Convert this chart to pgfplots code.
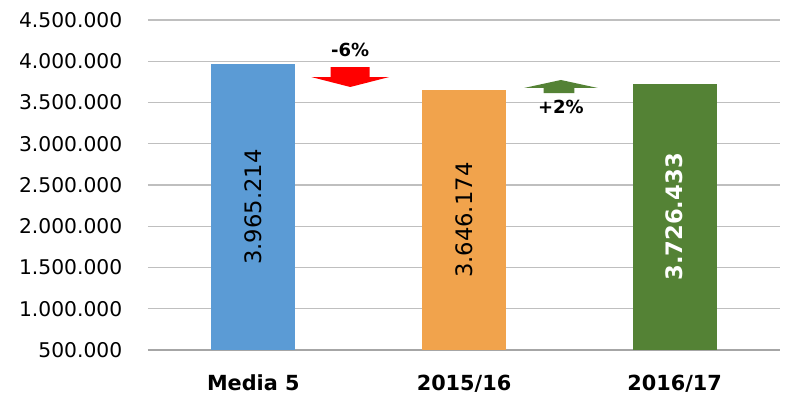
\documentclass[border=0pt]{standalone}
\usepackage{pgfplots}
\pgfplotsset{compat=1.18}
\usepackage{fontspec}
\setmainfont{DejaVu Sans}
\definecolor{cblue}{HTML}{5B9BD5}
\definecolor{corange}{HTML}{F1A34C}
\definecolor{cgreen}{HTML}{548235}
\definecolor{gridc}{HTML}{BFBFBF}
\definecolor{axc}{HTML}{A6A6A6}
\begin{document}
\begin{tikzpicture}
\begin{axis}[
  name=ax,
  scale only axis,
  width=474pt, height=247.5pt,
  xmin=-0.5, xmax=2.5,
  ymin=500000, ymax=4500000,
  ytick={500000,1000000,...,4500000},
  scaled y ticks=false,
  xtick={0,1,2},
  xticklabels={Media 5,2015/16,2016/17},
  axis x line=bottom, axis y line=left,
  y axis line style={draw=none},
  x axis line style={-, draw=axc, line width=0.8pt},
  ytick style={draw=none},
  xtick style={draw=none},
  extra x ticks={-0.5,0.5,1.5,2.5},
  extra x tick labels={},
  extra x tick style={tick style={draw=axc, line width=0.8pt}, major tick length=6pt, tick align=outside, grid=none},
  ymajorgrids,
  grid style={draw=gridc, line width=0.8pt},
  /pgf/number format/.cd, 1000 sep={.}, fixed, precision=0, assume math mode=true,
  /pgfplots/.cd,
  yticklabel style={font=\fontsize{15.2}{18}\selectfont, inner sep=0pt, xshift=-17pt},
  xticklabel style={font=\bfseries\fontsize{15.6}{18}\selectfont, inner sep=0pt, yshift=-14pt},
  ybar, bar width=0.4,
  bar shift=0pt,
  clip=false,
]
\addplot[fill=cblue, draw=none] coordinates {(0,3965214)};
\addplot[fill=corange, draw=none] coordinates {(1,3646174)};
\addplot[fill=cgreen, draw=none] coordinates {(2,3726433)};

\node[rotate=90, font=\fontsize{17}{20}\selectfont] at (axis cs:0,2232607) {3.965.214};
\node[rotate=90, font=\fontsize{17}{20}\selectfont] at (axis cs:1,2073087) {3.646.174};
\node[rotate=90, text=white, font=\bfseries\fontsize{17}{20}\selectfont] at (axis cs:2,2113216) {3.726.433};

% red down arrow
\fill[red] (axis cs:0.367,3930000) -- (axis cs:0.552,3930000) -- (axis cs:0.552,3809000)
  -- (axis cs:0.645,3809000) -- (axis cs:0.46,3688000) -- (axis cs:0.275,3809000)
  -- (axis cs:0.367,3809000) -- cycle;
\node[font=\bfseries\fontsize{13.5}{16}\selectfont] at (axis cs:0.46,4136000) {-6\%};
% green up arrow
\fill[cgreen] (axis cs:1.378,3615000) -- (axis cs:1.524,3615000) -- (axis cs:1.524,3676000)
  -- (axis cs:1.635,3676000) -- (axis cs:1.46,3773000) -- (axis cs:1.285,3676000)
  -- (axis cs:1.378,3676000) -- cycle;
\node[font=\bfseries\fontsize{13.5}{16}\selectfont] at (axis cs:1.46,3445000) {+2\%};
\end{axis}
\pgfresetboundingbox
\path[use as bounding box] ([xshift=-111pt,yshift=-40.5pt]ax.south west) rectangle ([xshift=6.75pt,yshift=15pt]ax.north east);
\end{tikzpicture}
\end{document}
